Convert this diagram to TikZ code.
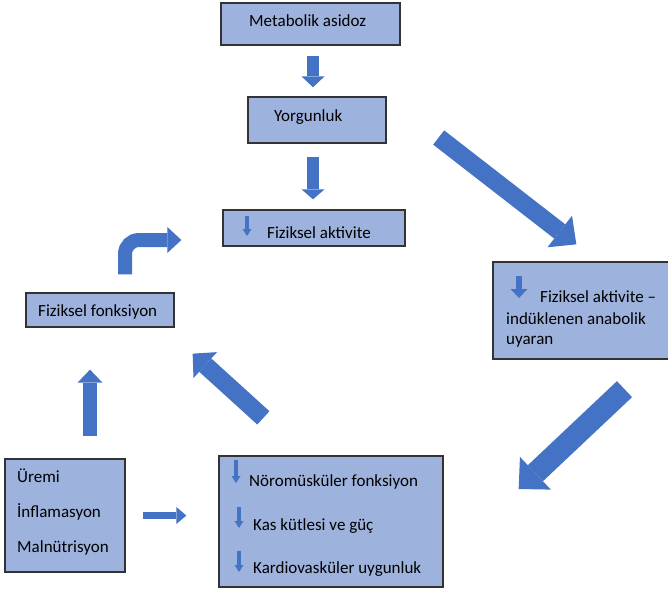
\documentclass[tikz,border=0pt]{standalone}
\usepackage{fontspec}
\setmainfont{Carlito}
\usetikzlibrary{arrows.meta}
\definecolor{boxblue}{RGB}{157,178,221}
\definecolor{arrowblue}{RGB}{68,114,196}
\tikzset{
  box/.style={draw=black!80, line width=1.3pt, fill=boxblue, inner sep=0pt},
  txt/.style={anchor=base west, inner sep=0pt, font=\fontsize{17}{20}\selectfont},
  blk/.style n args={3}{draw=arrowblue, line width=#1, line cap=butt,
    -{Triangle[width=#2, length=#3, line width=0pt]}},
  mini/.style={blk={3.5pt}{9pt}{7pt}},
}

\begin{document}
\begin{tikzpicture}[x=1pt, y=-1pt]
  %% ════ 框 ════
  \node[box, minimum width=179pt, minimum height=42pt] (meta)  at (310.5,24)  {};
  \node[box, minimum width=138pt, minimum height=46pt] (yorg)  at (317,120)   {};
  \node[box, minimum width=182pt, minimum height=36pt] (akt)   at (314,228)   {};
  \node[box, minimum width=148pt, minimum height=34pt] (fonk)  at (100,310)   {};
  \node[box, minimum width=176pt, minimum height=97pt] (anab)  at (581,310.5) {};
  \node[box, minimum width=120pt, minimum height=113pt] (uremi) at (65,515.5) {};
  \node[box, minimum width=224pt, minimum height=131pt] (noro)  at (331,521.5) {};

  %% ════ 文字（基线定位）════
  \node[txt] (tmeta) at (249,26)  {Metabolik asidoz};
  \node[txt] (tyorg) at (274,121) {Yorgunluk};
  \node[txt] (takt)  at (267,238) {Fiziksel aktivite};
  \node[txt] (tfonk) at (38,316)  {Fiziksel fonksiyon};
  \node[txt] (tana1) at (540,302) {Fiziksel aktivite –};
  \node[txt] (tana2) at (506,324) {indüklenen anabolik};
  \node[txt] (tana3) at (506,344) {uyaran};
  \node[txt] (ture1) at (17,482)  {Üremi};
  \node[txt] (ture2) at (17,517)  {İnflamasyon};
  \node[txt] (ture3) at (17,552)  {Malnütrisyon};
  \node[txt] (tnor1) at (249,486) {Nöromüsküler fonksiyon};
  \node[txt] (tnor2) at (253,530) {Kas kütlesi ve güç};
  \node[txt] (tnor3) at (253,573) {Kardiovasküler uygunluk};

  %% ════ 框内小箭头 ════
  \draw[mini] (247,216) -- (247,236);
  \draw[blk={6pt}{17pt}{9pt}] (519,276) -- (519,298);
  \draw[mini] (236,460) -- (236,483);
  \draw[mini] (239,507) -- (239,528);
  \draw[mini] (239,551) -- (239,572);

  %% ════ 粗箭头（两端都离框有一段空隙）════
  \draw[blk={12pt}{23pt}{11pt}] ([shift={(2.5,10)}]meta.south) -- ([shift={(-4,-9)}]yorg.north);
  \draw[blk={12pt}{23pt}{10pt}] ([shift={(-4,13)}]yorg.south) -- ([shift={(-1,-10)}]akt.north);
  \draw[blk={18pt}{40pt}{21pt}] ([shift={(52,17.5)}]yorg.east) -- ([shift={(84,-17)}]anab.north west);
  \draw[blk={22pt}{45pt}{23pt}] ([shift={(43.5,29.5)}]anab.south) -- ([shift={(75,-32.5)}]noro.east);
  \draw[blk={18pt}{35pt}{17pt}] ([shift={(45,-37.5)}]noro.north west) -- ([shift={(18,26)}]fonk.south east);
  \draw[blk={14pt}{25pt}{13pt}] ([shift={(25,-22)}]uremi.north) -- ([shift={(-10,42)}]fonk.south);
  \draw[blk={7pt}{17pt}{10pt}] ([shift={(17,0)}]uremi.east) -- ([shift={(-32,-6)}]noro.west);
  %% 拐弯箭头：先上后右
  \draw[blk={14pt}{26pt}{14pt}, rounded corners=14pt] ([shift={(25,-18)}]fonk.north) |- ([shift={(-41,12)}]akt.west);

  % 钉死画布
  \pgfresetboundingbox
  \path[use as bounding box] (0,0) rectangle (668,590);
\end{tikzpicture}
\end{document}
